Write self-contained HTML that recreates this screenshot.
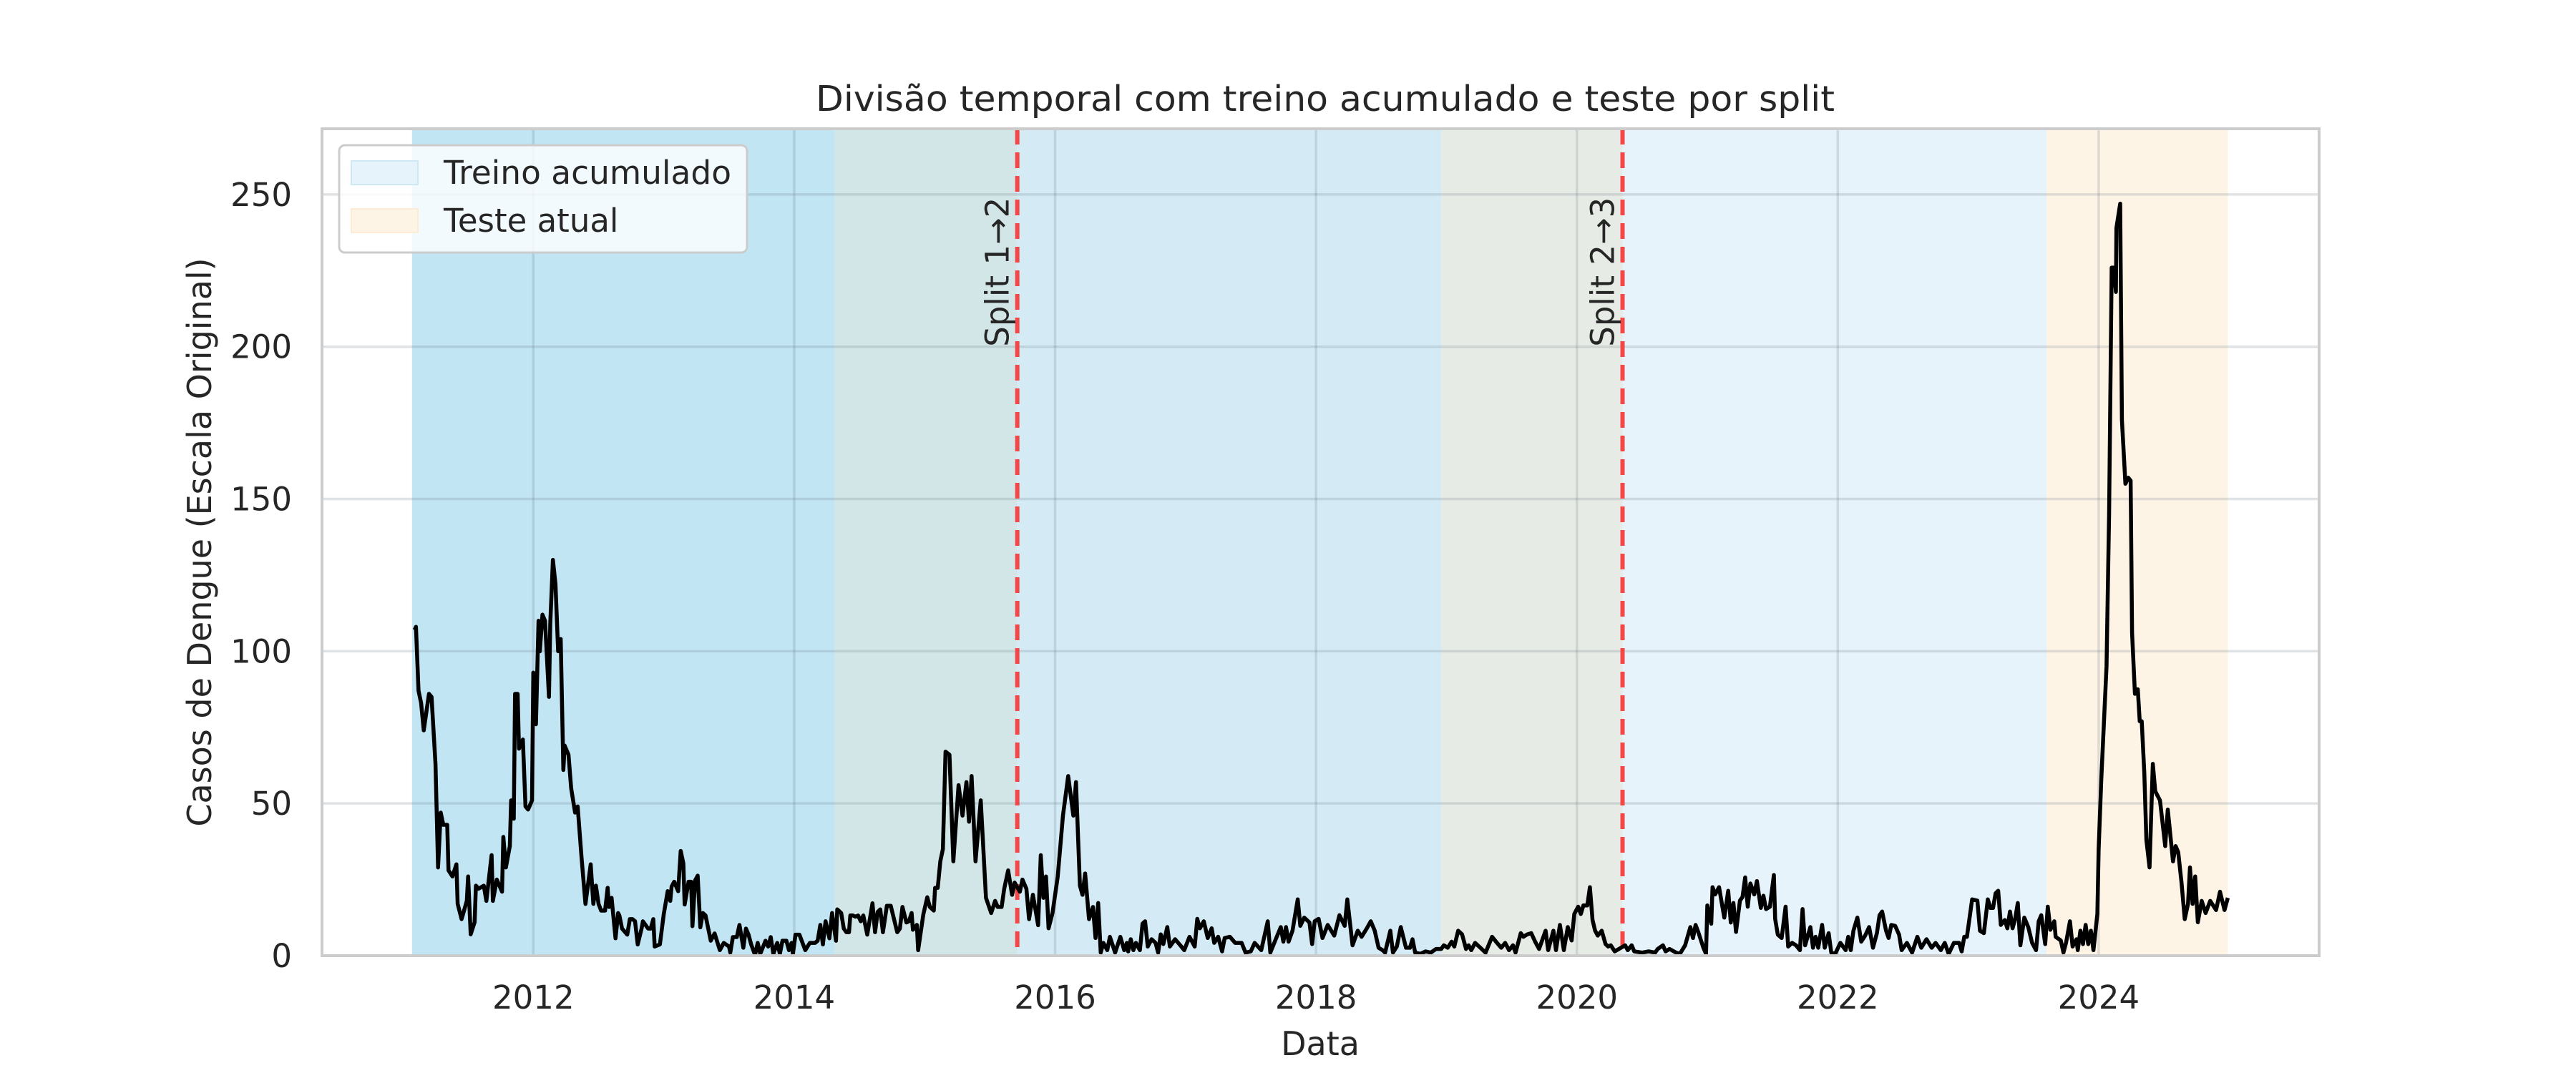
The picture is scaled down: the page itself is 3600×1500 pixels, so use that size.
<!DOCTYPE html>
<html>
<head>
<meta charset="utf-8">
<style>
  html,body{margin:0;padding:0;background:#fff;}
  svg{display:block;}
  text{font-family:"DejaVu Sans","Liberation Sans",sans-serif;fill:#262626;}
</style>
</head>
<body>
<svg id="chart" width="3600" height="1500" viewBox="0 0 3600 1500" xmlns="http://www.w3.org/2000/svg">
  <rect x="0" y="0" width="3600" height="1500" fill="#ffffff"/>
  <g id="spans"></g>
  <g id="grid"></g>
  <g id="vlines"></g>
  <g id="series"></g>
  <rect x="450" y="180" width="2791" height="1156" fill="none" stroke="#cccccc" stroke-width="4"/>
  <g id="yticks"></g>
  <g id="xticks"></g>
  <text x="1140" y="155" font-size="49" textLength="1424" lengthAdjust="spacingAndGlyphs">Divisão temporal com treino acumulado e teste por split</text>
  <text x="1845" y="1475" font-size="46" text-anchor="middle">Data</text>
  <text transform="translate(295,758) rotate(-90)" font-size="46" text-anchor="middle">Casos de Dengue (Escala Original)</text>
  <g>
    <rect x="474" y="203" width="570" height="150" rx="8" fill="rgba(255,255,255,0.8)" stroke="#cccccc" stroke-width="3"/>
    <rect x="491" y="225" width="93" height="33" fill="#e6f3fa" stroke="#cfe8f4" stroke-width="2"/>
    <text x="620" y="257" font-size="45" textLength="402" lengthAdjust="spacingAndGlyphs">Treino acumulado</text>
    <rect x="491" y="292" width="93" height="33" fill="#fdf4e6" stroke="#fbecd3" stroke-width="2"/>
    <text x="620" y="324" font-size="45">Teste atual</text>
  </g>
</svg>
<script>
// ---- data ----
const dates = [2011.09,2011.10,2011.12,2011.14,2011.16,2011.20,2011.22,2011.25,2011.27,2011.29,2011.31,2011.34,2011.35,2011.38,2011.41,2011.42,2011.45,2011.49,2011.50,2011.52,2011.55,2011.56,2011.58,2011.62,2011.64,2011.68,2011.69,2011.72,2011.76,2011.77,2011.79,2011.82,2011.83,2011.85,2011.86,2011.88,2011.89,2011.92,2011.94,2011.96,2011.99,2012.00,2012.02,2012.04,2012.05,2012.07,2012.09,2012.12,2012.13,2012.15,2012.17,2012.19,2012.21,2012.23,2012.24,2012.27,2012.29,2012.32,2012.34,2012.37,2012.40,2012.44,2012.46,2012.48,2012.50,
2012.52,2012.55,2012.57,2012.58,2012.60,2012.63,2012.65,2012.66,2012.68,2012.72,2012.74,2012.76,2012.78,2012.80,2012.83,2012.84,2012.88,2012.90,2012.92,2012.93,2012.97,2013.00,2013.03,2013.05,2013.06,2013.08,2013.11,2013.13,2013.15,2013.16,2013.19,2013.21,2013.22,2013.24,2013.26,2013.28,2013.30,2013.32,2013.36,2013.39,2013.43,2013.46,2013.50,2013.51,2013.53,2013.56,2013.58,2013.61,2013.63,2013.65,2013.67,2013.70,2013.72,2013.74,2013.78,2013.80,2013.82,2013.84,2013.87,2013.89,2013.91,2013.94,2013.96,2013.98,2013.99,2014.01,2014.04,2014.085,2014.12,2014.16,2014.18,2014.20,2014.22,2014.24,2014.27,2014.29,2014.32,2014.33,2014.36,2014.38,2014.40,2014.42,2014.43,2014.45,2014.47,2014.49,2014.51,2014.53,2014.56,2014.60,2014.62,2014.64,2014.66,2014.68,2014.71,2014.74,2014.79,2014.81,2014.83,2014.86,2014.88,2014.90,2014.91,2014.94,2014.95,2014.99,2015.02,2015.04,2015.07,2015.08,2015.10,2015.12,2015.14,
2015.16,2015.19,2015.22,2015.26,2015.29,2015.32,2015.34,2015.36,2015.39,2015.43,2015.47,2015.51,2015.54,2015.56,2015.59,2015.61,2015.64,2015.67,2015.69,2015.73,2015.75,2015.78,2015.80,2015.83,2015.87,2015.89,2015.91,2015.93,2015.95,2015.98,2016.02,2016.06,2016.10,2016.14,2016.16,2016.19,2016.21,2016.23,2016.26,2016.29,
2016.31,2016.33,2016.35,2016.37,2016.40,2016.42,2016.46,2016.50,2016.53,2016.55,2016.56,2016.58,2016.60,2016.62,2016.65,2016.67,2016.69,2016.71,2016.74,2016.77,2016.79,2016.81,2016.83,2016.86,2016.88,2016.92,2016.96,2016.99,2017.03,2017.07,2017.09,2017.11,2017.14,2017.17,2017.20,2017.22,2017.25,2017.28,2017.30,2017.34,2017.38,2017.43,2017.46,2017.50,2017.53,2017.58,2017.63,2017.65,2017.68,2017.73,2017.75,2017.77,2017.79,2017.82,2017.86,2017.88,2017.91,2017.95,2017.97,2017.99,2018.02,2018.05,2018.09,2018.14,2018.18,2018.22,2018.24,2018.28,2018.32,2018.35,2018.39,2018.42,2018.45,2018.48,2018.51,2018.53,2018.57,2018.59,2018.62,2018.65,2018.69,2018.72,2018.74,2018.76,2018.80,2018.84,2018.88,2018.92,2018.96,2018.98,2019.01,2019.04,2019.06,2019.09,2019.12,2019.15,2019.17,2019.19,2019.22,2019.26,2019.30,2019.35,2019.38,2019.42,2019.45,2019.48,2019.51,2019.53,2019.57,2019.59,2019.62,2019.65,2019.68,2019.71,2019.76,2019.78,2019.82,2019.84,2019.87,2019.90,2019.93,2019.96,2019.98,2020.01,2020.03,2020.05,2020.08,2020.10,2020.12,2020.14,2020.16,2020.19,2020.22,2020.24,
2020.26,2020.29,2020.37,2020.39,2020.42,2020.44,2020.50,2020.55,2020.60,2020.62,2020.66,2020.68,2020.71,2020.76,2020.79,2020.83,2020.87,2020.89,2020.91,2020.93,2020.97,2020.99,2021.00,2021.03,2021.04,2021.06,2021.09,2021.13,2021.16,2021.18,2021.20,2021.22,2021.25,2021.27,2021.29,2021.31,2021.33,2021.36,2021.38,2021.41,2021.43,2021.45,2021.48,2021.51,2021.52,2021.54,2021.57,2021.60,2021.62,2021.65,2021.68,2021.71,2021.73,2021.75,2021.79,2021.81,2021.83,2021.85,2021.88,2021.90,2021.93,2021.95,2021.98,2022.02,2022.06,2022.08,2022.10,2022.12,2022.15,2022.18,2022.21,2022.24,2022.27,2022.30,2022.32,2022.34,2022.37,2022.39,2022.41,2022.44,2022.47,2022.49,2022.53,2022.57,2022.61,2022.64,2022.68,2022.72,2022.75,2022.79,2022.82,2022.85,2022.89,2022.93,2022.95,2022.97,2022.99,2023.03,2023.07,2023.09,2023.12,2023.15,2023.17,2023.19,2023.21,2023.23,2023.25,2023.28,2023.30,2023.32,2023.34,2023.36,2023.38,2023.40,2023.43,2023.46,2023.49,2023.52,2023.54,2023.56,2023.59,2023.61,2023.63,2023.66,2023.67,2023.71,2023.73,2023.75,2023.78,2023.80,2023.83,2023.84,2023.86,2023.88,2023.90,2023.92,2023.94,2023.96,2023.99,
2024.00,2024.02,2024.06,2024.08,2024.10,2024.117,2024.132,2024.136,2024.165,2024.178,2024.205,2024.227,2024.245,2024.256,2024.278,2024.30,2024.315,2024.33,2024.35,2024.366,2024.39,2024.415,2024.434,2024.47,2024.51,2024.53,2024.57,2024.59,2024.61,2024.635,2024.66,2024.685,2024.70,2024.72,2024.74,2024.76,2024.79,2024.82,2024.855,2024.90,2024.93,2024.965,2024.99];
const cases = [107,108,87,83,74,86,85,63,29,47,43,43,28,26,30,17,12,18,26,7,11,23,22,23,18,33,18,25,21,39,29,36,51,45,86,86,68,71,49,48,51,93,76,110,100,112,110,85,109,130,122,100,104,61,69,66,55,47,49,32,17,30,17,23,17,
14.8,14.8,22.3,16,19,5.7,14,13.2,8.9,6.9,12,12,11.3,3.7,8.9,11.3,8.9,8.9,12,3,3.7,13.6,21.2,18,22.7,24.3,21.2,34.4,30.3,16.8,24.3,24.3,9.7,24.7,26.3,9.3,14,13.2,4.9,7.3,1.8,4.2,3,1,6.1,6.1,10.1,2.6,8.9,6.9,3.7,0.2,4.2,0.6,4.9,3,6.1,0.6,4.2,0.6,4.9,4.9,1.8,4.2,0.6,6.9,6.9,1.8,4.2,4.2,4.9,10.1,3.7,11.3,5.7,14,4.9,15.2,14,8.9,7.7,7.7,13.2,13.2,12.8,13.2,11.3,13.2,6.9,17.2,7.7,14.4,15.2,7.7,16.4,16.4,7.7,8.9,16,10.9,11.3,14,8.5,10.1,1.8,13.6,19.2,16,14.8,22.3,22.3,31,35,
67,66,31,56,46,57,44,59,31,51,19,14,18,16,16,22,28,20,24,21,25,22,12,20,10,33,19,26,9,14,26,46,59,46,57,23,20,27,12,16,
5.8,17.3,1,4.2,1.8,6.2,1,6.2,1.8,4.2,1.4,5.4,1.8,4.2,1.8,10.5,11.3,3,5.4,4.2,1,7,3.8,9.4,3,5.4,3.4,1.8,6.2,3,12.1,9,11.3,5.8,9,4.2,6.2,1.4,5.8,6.2,4.2,4.2,1,1.4,4.2,1.8,11.3,1,4.2,9.4,4.6,9.4,4.6,8.2,18.5,9.8,12.5,10.9,3.8,11.3,12.1,5.8,10.1,6.6,13.3,9.8,18.5,3.4,8.2,6.2,9,11.3,8.2,2.6,1.8,1,8.2,1,3,9.4,2.6,2.6,5.4,1,0.6,1.4,1,2.2,2.2,3.4,2.6,4.6,3,8.2,7,2.2,3.4,1.8,4.2,2.6,1,6.2,4.6,2.6,4.2,1.8,3.4,1,7.4,6.2,7,7.4,4.6,2.2,8.2,1.8,8.2,1.8,10.1,1.8,9.4,5,13.7,16.1,13.7,16.5,16.5,22.5,11.7,8.2,6.6,8.2,3.8,3,
3.4,1.4,3.4,1.8,3.4,1.4,1,1.4,1,2.2,3.4,1.4,2.2,1,0.6,3.4,9.4,5.8,10.1,7.8,2.6,0.6,16.5,10.5,22.5,20.1,22.5,12.5,21.3,10.9,17.3,7.8,18.1,19.3,25.7,16.1,23.7,20.1,24.5,15.7,19.7,15.3,16.1,26.5,12.1,6.9,5.8,16.1,3,4.2,3.4,1.8,15.3,3.4,9.4,2.6,6.2,2.6,10.1,2.6,7.4,1,0.6,4.2,1.8,6.2,1.8,8.2,12.5,4.6,6.6,9.4,2.6,7.4,13.3,14.5,8.2,5.8,10.1,9.8,6.9,1.8,4.2,1,6.2,2.6,5.4,2.6,4.2,1.8,4.2,0.6,4.2,4.2,1.4,6.2,6.2,18.5,18.1,8.2,7.4,18.5,15.7,15.7,20.5,21.3,10.1,11.7,9,14.5,9,12.1,17.3,3.4,12.5,9.4,4.2,1.8,11.3,13.3,3.8,16.1,8.5,11.3,6.2,5,1,4.2,11.3,3,5.4,1.8,8.2,3.8,10.1,3.8,8.2,1.8,13.7,
35,58,95,145,226,226,218,239,247,176,155,157,156,106,86,87.5,77,77,60,38,29,63,54,51,36,48,31,36,34,24,12,17,29,17,26,11,18,14,18,15,21,15,19];
const yTicks = [0,50,100,150,200,250];
const xTicks = [2012,2014,2016,2018,2020,2022,2024];
const spanStarts = [2011.07,2014.31,2015.71,2018.96,2020.35,2023.60];
const spanEnds   = [2014.31,2015.71,2018.96,2020.35,2023.60,2024.99];
const spanColors = ['#c2e5f4','#d3e6e7','#d4ebf5','#e6ebe6','#e6f3fa','#fdf4e6'];
const splitDates = [2015.71,2020.35];
const splitLabels = ['Split 1\u21922','Split 2\u21923'];
const splitLabelValue = 200;

// ---- axes ----
const L=450,R=3241,T=180,B=1336;
const xMin=2010.38,xMax=2025.69,yMin=0,yMax=271.6;
const NS='http://www.w3.org/2000/svg';
function xs(v){return L+(v-xMin)/(xMax-xMin)*(R-L);}
function ys(v){return B-(v-yMin)/(yMax-yMin)*(B-T);}
function mk(tag,attrs,parent){const e=document.createElementNS(NS,tag);for(const k in attrs)e.setAttribute(k,attrs[k]);parent.appendChild(e);return e;}

const gSp=document.getElementById('spans');
for(let i=0;i<spanStarts.length;i++){
  const r=mk('rect',{x:xs(spanStarts[i]),y:T,width:xs(spanEnds[i])-xs(spanStarts[i]),height:B-T,fill:spanColors[i]},gSp);
  
  
}
const gG=document.getElementById('grid');
yTicks.forEach(v=>{
  const l=mk('line',{x1:L,x2:R,y1:ys(v),y2:ys(v),stroke:'rgba(100,115,125,0.2)','stroke-width':3.5},gG);
  
  
});
xTicks.forEach(v=>{
  const l=mk('line',{x1:xs(v),x2:xs(v),y1:T,y2:B,stroke:'rgba(100,115,125,0.2)','stroke-width':3.5},gG);
  
  
});
const gYT=document.getElementById('yticks');
yTicks.forEach(v=>{
  const t=mk('text',{x:408,y:ys(v)+16,'font-size':45,'text-anchor':'end'},gYT);
  t.textContent=String(v);
  
  
});
const gXT=document.getElementById('xticks');
xTicks.forEach(v=>{
  const t=mk('text',{x:xs(v),y:1410,'font-size':45,'text-anchor':'middle'},gXT);
  t.textContent=String(v);
  
  
});
const gV=document.getElementById('vlines');
splitDates.forEach((d,i)=>{
  const l=mk('line',{x1:xs(d),x2:xs(d),y1:T,y2:B,stroke:'#f44848','stroke-width':6,'stroke-dasharray':'22 11'},gV);
  
  
  const t=mk('text',{transform:'translate('+(xs(d)-12)+','+ys(splitLabelValue)+') rotate(-90)','font-size':45},gV);
  t.textContent=splitLabels[i];
  
  
});
const gS=document.getElementById('series');
let dstr='';
for(let i=0;i<dates.length;i++){dstr+=(i?'L':'M')+xs(dates[i]).toFixed(1)+','+ys(cases[i]).toFixed(1);}
const p=mk('path',{d:dstr,fill:'none',stroke:'#000','stroke-width':5.5,'stroke-linejoin':'round'},gS);


</script>
</body>
</html>
